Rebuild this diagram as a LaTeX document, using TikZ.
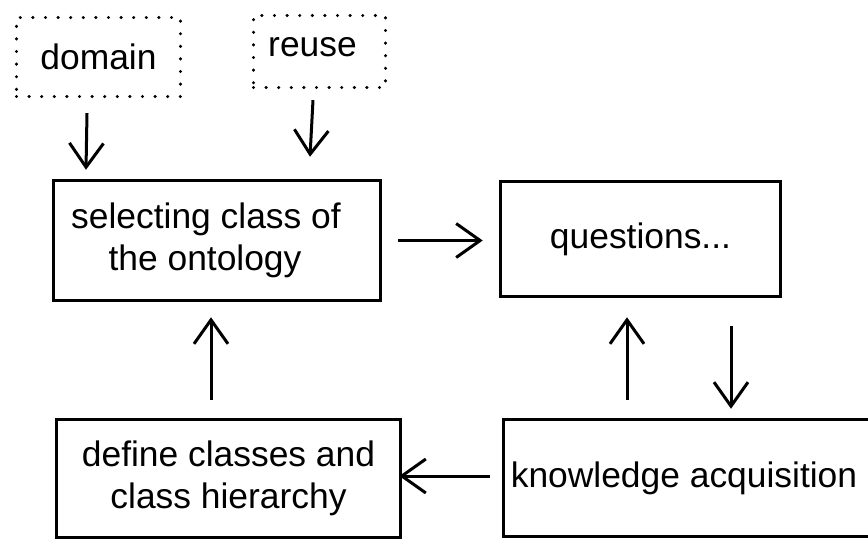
\documentclass[tikz,border=0pt]{standalone}
\usepackage{fontspec}
\setmainfont{Liberation Sans}
\usetikzlibrary{arrows.meta,calc,positioning}

\begin{document}
\begin{tikzpicture}[x=0.5pt,y=-0.5pt,
    box/.style={draw,line width=1.75pt,align=center,inner sep=0pt},
    dotbox/.style={draw,line width=1.7pt,dash pattern=on 0pt off 6.3pt,line cap=round,inner sep=0pt},
    arr/.style={-{Straight Barb[length=12pt,width=17pt]},line width=1.5pt}]
    \path[use as bounding box,clip] (0,0) rectangle (868,541);
    {\fontsize{17.7pt}{21pt}\selectfont
      \node(dom) at (98.5,57) [dotbox,minimum width=82pt,minimum height=39.5pt] {domain};
      \node(reu) at (319.5,51.5) [dotbox,minimum width=66pt,minimum height=36pt] {\raisebox{5pt}{reuse}\hspace*{7pt}};

      \node(sel) at (217,240.5) [box,minimum width=163.5pt,minimum height=60pt] {selecting class of\hspace*{11pt}\\the ontology\hspace*{12pt}};
      \node(que) at (640.5,239) [box,minimum width=140pt,minimum height=57.5pt] {questions...};

      \node(def) at (228.5,478.5) [box,minimum width=172pt,minimum height=59pt] {define classes and\\class hierarchy};
      \node(kno) at (687,478) [box,minimum width=183.5pt,minimum height=58.5pt] {\hspace{-3pt}knowledge acquisition};

      \draw[arr] ($(dom.south)+(-11.5,15)$) -- ($(sel.north)+(-131,-9)$);
      \draw[arr] ($(reu.south)+(-6.5,11)$) -- ($(sel.north)+(93,-22)$);
      \draw[arr] ($(sel.east)+(16,0)$) -- ($(sel.east -| que.west)+(-16,0)$);
      \draw[arr] ($(def.north)+(-17.5,-18)$) -- ($(sel.south)+(-6,15)$);
      \draw[arr] ($(kno.north)+(-60,-18)$) -- ($(que.south)+(-13.5,19)$);
      \draw[arr] ($(que.south)+(90.5,28)$) -- ($(kno.north)+(44,-9)$);
      \draw[arr] ($(kno.west)+(-12,-2)$) -- ($(kno.west -| def.east)+(-3,-2)$);
    }
\end{tikzpicture}
\end{document}
